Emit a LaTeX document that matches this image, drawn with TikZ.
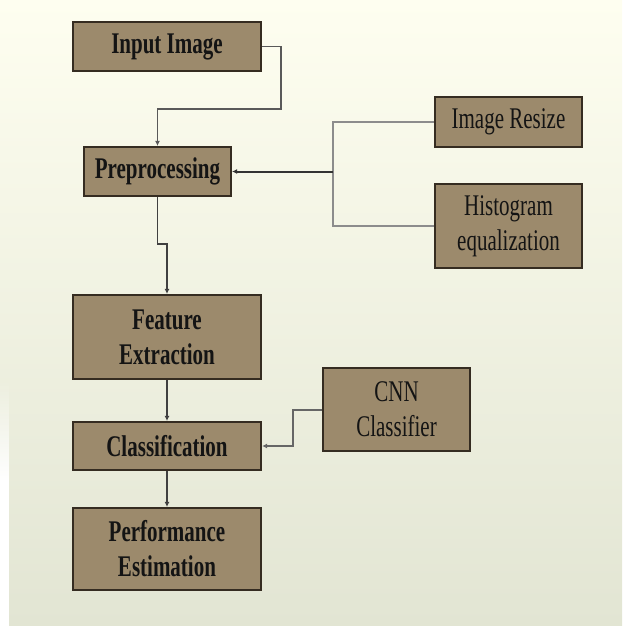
\documentclass[tikz,border=0pt]{standalone}
\usepackage{fontspec}
\setmainfont{Liberation Serif}[FakeStretch=0.7]
\usetikzlibrary{arrows.meta,shadows,fadings}
\definecolor{boxfill}{HTML}{9C8A6C}
\definecolor{boxline}{HTML}{352C21}
\definecolor{bgtop}{HTML}{FEFEF0}
\definecolor{bgmid}{HTML}{F7F8EA}
\definecolor{bgbot}{HTML}{E2E5D3}
\tikzset{
  box/.style={draw=boxline, fill=boxfill, line width=2.2pt, inner sep=0pt,
    align=center, text=black!92,
    font=\fontsize{30}{35}\selectfont,
    drop shadow={shadow xshift=1.2pt, shadow yshift=-1.2pt, opacity=0.35, fill=black}},
  boldbox/.style={box, font=\fontsize{30}{35}\selectfont\bfseries},
  conn/.style={draw=black!65, line width=1.3pt},
  sideconn/.style={draw=black!45, line width=2pt},
  tip/.style={-{Latex[length=5pt,width=5pt]}},
}
\begin{document}
\begin{tikzpicture}[x=1pt,y=-1pt]
  \useasboundingbox (0,0) rectangle (622,626);
  \fill[top color=bgtop, middle color=bgmid, bottom color=bgbot] (0,0) rectangle (622,626);
  \fill[white, path fading=north] (0,380) rectangle (9,480);
  \fill[white] (0,480) rectangle (9,626);

  \node[boldbox, minimum width=188pt, minimum height=49pt] (in) at (167,46.5) {Input Image};
  \node[boldbox, minimum width=147pt, minimum height=49pt] (pre) at (157.5,171.5) {Preprocessing};
  \node[box, minimum width=147pt, minimum height=50pt] (resize) at (508.5,122) {Image Resize};
  \node[box, minimum width=147pt, minimum height=84pt] (hist) at (508.5,226) {Histogram\\equalization};
  \node[boldbox, minimum width=188pt, minimum height=84pt] (feat) at (167,337) {Feature\\Extraction};
  \node[box, minimum width=147pt, minimum height=83pt] (cnn) at (396.5,409.5) {CNN\\Classifier};
  \node[boldbox, minimum width=188pt, minimum height=48pt] (cls) at (167,446) {Classification};
  \node[boldbox, minimum width=188pt, minimum height=82pt] (perf) at (167,549) {Performance\\Estimation};

  \coordinate (j1) at (281,109);
  \coordinate (j2) at (157.5,244);
  \coordinate (j3) at (333,171.5);
  \coordinate (j4) at (293,409.5);

  \draw[conn, tip] (in.east) -| (j1) -| (pre.north);
  \draw[sideconn] (resize.west) -| (j3) |- (hist.west);
  \draw[draw=black!80, line width=2pt, tip] (j3) -- (pre.east);
  \draw[conn, draw=black!75, tip] (pre.south) -- (j2) -| (feat.north);
  \draw[conn, draw=black!75, tip] (feat.south) -- (cls.north);
  \draw[conn, draw=black!75, tip] (cls.south) -- (perf.north);
  \draw[sideconn, draw=black!60, tip] (cnn.west) -- (j4) |- (cls.east);
\end{tikzpicture}
\end{document}
